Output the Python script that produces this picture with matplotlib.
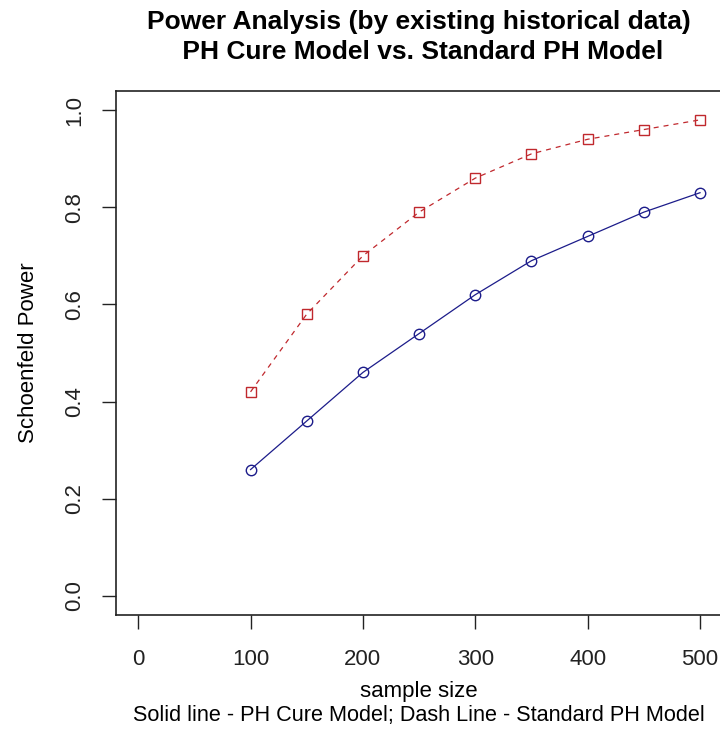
import matplotlib
matplotlib.use('Agg')
from matplotlib import pyplot as plt

# data
sample_size = [100, 150, 200, 250, 300, 350, 400, 450, 500]
power_cure = [0.26, 0.36, 0.46, 0.54, 0.62, 0.69, 0.74, 0.79, 0.83]
power_std = [0.42, 0.58, 0.70, 0.79, 0.86, 0.91, 0.94, 0.96, 0.98]

x_ticks = [0, 100, 200, 300, 400, 500]
y_ticks = [0.0, 0.2, 0.4, 0.6, 0.8, 1.0]

col_blue = '#1c1c8a'
col_red = '#c0282d'

plt.rcParams['font.family'] = ['Liberation Sans', 'DejaVu Sans']
fsize_text = 16
fsize_sub = 15.6
fsize_title = 19

fig = plt.figure(figsize=(7.2, 7.32), dpi=100)
ax = fig.add_axes([115.7 / 720, 1 - 615.3 / 732, (722.5 - 115.7) / 720, (615.3 - 90.7) / 732])

ax.plot(sample_size, power_cure, color=col_blue, lw=0.9, marker='o', markersize=7.5,
        markerfacecolor='none', markeredgecolor=col_blue, markeredgewidth=1.0)
ax.plot(sample_size, power_std, color=col_red, lw=0.9, linestyle=(0, (4, 4)), marker='s',
        markersize=7, markerfacecolor='none', markeredgecolor=col_red, markeredgewidth=1.0)

ax.set_xlim(-20, 520)
ax.set_ylim(-0.04, 1.04)
ax.set_xticks(x_ticks)
ax.set_yticks(y_ticks)
ax.set_xticklabels([str(v) for v in x_ticks], fontsize=fsize_text)
ax.set_yticklabels([f'{v:.1f}' for v in y_ticks], fontsize=fsize_text, rotation=90, va='center')
ax.tick_params(length=10, width=1.0, colors='#222222')
ax.tick_params(axis='x', pad=14)
ax.tick_params(axis='y', pad=12)
for s in ax.spines.values():
    s.set_linewidth(1.2)
    s.set_color('#222222')

ax.set_ylabel('Schoenfeld Power', fontsize=fsize_text, labelpad=18)
ax.set_xlabel('sample size', fontsize=fsize_text, labelpad=8)

# title centred over the plot region, like R does
x_mid = (115.7 + 722.5) / 2 / 720
fig.text(x_mid, 1 - 37 / 732, 'Power Analysis (by existing historical data)\n PH Cure Model vs. Standard PH Model',
         ha='center', va='center', fontsize=fsize_title, fontweight='bold', linespacing=1.3)
fig.text(x_mid, 1 - 716 / 732, 'Solid line - PH Cure Model; Dash Line - Standard PH Model',
         ha='center', va='center', fontsize=fsize_sub)

fig.savefig('out.png', dpi=100)
